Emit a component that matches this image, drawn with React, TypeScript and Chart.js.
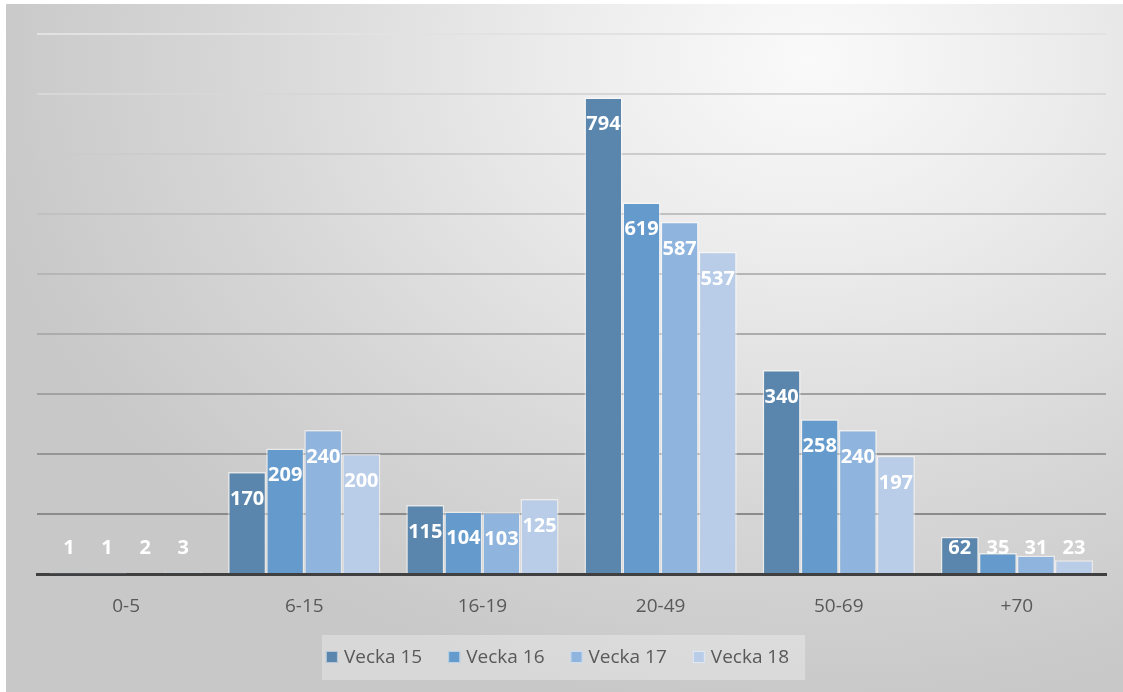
import React, { useEffect, useRef } from "react";
import { Chart, registerables } from "chart.js";

Chart.register(...registerables);

const categories = ["0-5", "6-15", "16-19", "20-49", "50-69", "+70"];
const seriesNames = ["Vecka 15", "Vecka 16", "Vecka 17", "Vecka 18"];
const vecka15 = [1, 170, 115, 794, 340, 62];
const vecka16 = [1, 209, 104, 619, 258, 35];
const vecka17 = [2, 240, 103, 587, 240, 31];
const vecka18 = [3, 200, 125, 537, 197, 23];
const seriesColors = ["#5a86ad", "#659bcc", "#8fb4de", "#b9cde8"];

const FONT = "'Open Sans', 'Noto Sans', sans-serif";

const labelPlugin = {
  id: "barLabels",
  afterDatasetsDraw(chart: any) {
    const ctx = chart.ctx;
    const base = chart.scales.y.getPixelForValue(0);
    ctx.save();
    ctx.fillStyle = "#ffffff";
    ctx.font = `bold 20px ${FONT}`;
    ctx.textAlign = "center";
    ctx.textBaseline = "middle";
    chart.data.datasets.forEach((ds: any, i: number) => {
      const meta = chart.getDatasetMeta(i);
      meta.data.forEach((el: any, j: number) => {
        const y = Math.min(el.y + 27, base - 26);
        ctx.fillText(String(ds.data[j]), el.x, y);
      });
    });
    ctx.restore();
  },
};

const customLegend = {
  id: "customLegend",
  afterDraw(chart: any) {
    const ctx = chart.ctx;
    const ds = chart.data.datasets;
    ctx.save();
    ctx.font = `19px ${FONT}`;
    const box = 12;
    const gapBoxText = 6;
    const gapItems = 26;
    const widths = ds.map((d: any) => box + gapBoxText + ctx.measureText(d.label).width);
    const total = widths.reduce((a: number, b: number) => a + b, 0) + gapItems * (ds.length - 1);
    const cx = (chart.chartArea.left + chart.chartArea.right) / 2 - 14;
    const cy = 653;
    let x = cx - total / 2;
    ctx.fillStyle = "rgba(255,255,255,0.3)";
    ctx.fillRect(x - 4, cy - 22, total + 20, 45);
    ctx.textBaseline = "middle";
    ctx.textAlign = "left";
    ds.forEach((d: any, i: number) => {
      ctx.fillStyle = d.backgroundColor;
      ctx.fillRect(x, cy - box / 2, box, box);
      ctx.strokeStyle = "rgba(255,255,255,0.55)";
      ctx.lineWidth = 1;
      ctx.strokeRect(x + 0.5, cy - box / 2 + 0.5, box - 1, box - 1);
      ctx.fillStyle = "#595959";
      ctx.fillText(d.label, x + box + gapBoxText, cy + 1);
      x += widths[i] + gapItems;
    });
    ctx.restore();
  },
};

function gridColor(v: number) {
  const t = v / 900;
  const g = Math.round(0x80 + (0xe2 - 0x80) * t);
  return `rgb(${g},${g},${g})`;
}

export default function App() {
  const ref = useRef<HTMLCanvasElement>(null);
  useEffect(() => {
    if (!ref.current) return;
    const values = [vecka15, vecka16, vecka17, vecka18];
    const chart = new Chart(ref.current, {
      type: "bar",
      data: {
        labels: categories,
        datasets: seriesNames.map((name, i) => ({
          label: name,
          data: values[i],
          backgroundColor: seriesColors[i],
          borderColor: "rgba(255,255,255,0.55)",
          borderWidth: 1.5,
          categoryPercentage: 0.855,
          barPercentage: 1,
        })),
      },
      options: {
        animation: false,
        responsive: false,
        layout: { padding: { left: 31, right: 17, top: 30, bottom: 0 } },
        scales: {
          x: {
            grid: { display: false },
            border: { display: true, color: "#404040", width: 3 },
            ticks: { color: "#595959", font: { family: FONT, size: 19 }, padding: 13 },
            afterFit: (s: any) => {
              s.height = 118;
            },
          },
          y: {
            min: 0,
            max: 900,
            ticks: { display: false, stepSize: 100 },
            border: { display: false },
            grid: {
              drawTicks: false,
              lineWidth: 2,
              color: (c: any) => gridColor(c.tick ? c.tick.value : 0),
            },
          },
        },
        plugins: {
          legend: { display: false },
          tooltip: { enabled: false },
        },
      },
      plugins: [labelPlugin, customLegend],
    });
    return () => chart.destroy();
  }, []);
  return (
    <div
      style={{
        position: "fixed",
        left: 6,
        top: 4,
        width: 1117,
        height: 688,
        background:
          "radial-gradient(ellipse 75% 95% at 72% 8%, #fafafa 0%, #ececec 30%, #d6d6d6 70%, #c8c8c8 100%)",
      }}
    >
      <canvas ref={ref} width={1117} height={688} />
    </div>
  );
}
